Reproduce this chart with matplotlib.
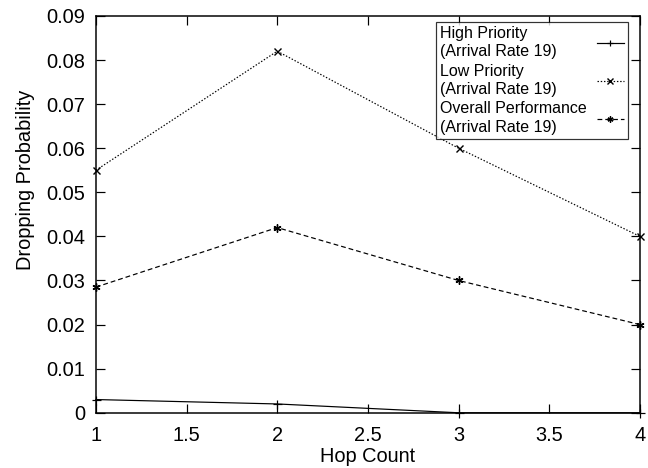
import matplotlib
matplotlib.use("Agg")
import matplotlib.pyplot as plt

hops = [1, 2, 3, 4]
high = [0.003, 0.002, 0.0, 0.0]
low = [0.055, 0.082, 0.060, 0.040]
overall = [0.0285, 0.042, 0.030, 0.020]
labels = ["High Priority\n(Arrival Rate 19)", "Low Priority\n(Arrival Rate 19)",
          "Overall Performance\n(Arrival Rate 19)"]

plt.rcParams['font.family'] = ['Liberation Sans', 'DejaVu Sans']
fig = plt.figure(figsize=(9, 6.5), dpi=72)
ax = fig.add_axes([0.148, 0.118, 0.8395, 0.848])

ax.plot(hops, high, color='black', lw=1.2, marker='+', ms=9, mew=1.2, label=labels[0], clip_on=False)
ax.plot(hops, low, color='black', lw=1.2, ls=(0, (1.2, 1.5)), marker='x', ms=7, mew=1.4, label=labels[1], clip_on=False)
ax.plot(hops, overall, color='black', lw=1.2, ls=(0, (4, 2.5)), marker=(6, 2, 0), ms=8, mew=1.4, label=labels[2], clip_on=False)

ax.set_xlim(1, 4)
ax.set_ylim(0, 0.09)
ax.set_xticks([1, 1.5, 2, 2.5, 3, 3.5, 4])
ax.set_xticklabels(['1', '1.5', '2', '2.5', '3', '3.5', '4'])
ax.set_yticks([0, 0.01, 0.02, 0.03, 0.04, 0.05, 0.06, 0.07, 0.08, 0.09])
ax.set_yticklabels(['0', '0.01', '0.02', '0.03', '0.04', '0.05', '0.06', '0.07', '0.08', '0.09'])
ax.tick_params(direction='in', top=True, right=True, length=9, width=1.2, labelsize=20)
ax.tick_params(axis='x', pad=13)
ax.tick_params(axis='y', pad=11)
for s in ax.spines.values():
    s.set_linewidth(1.5)
ax.set_xlabel('Hop Count', fontsize=20, labelpad=2)
ax.set_ylabel('Dropping Probability', fontsize=20)
ax.yaxis.set_label_coords(-0.112, 0.587)


def make_legend(lspace):
    lg = ax.legend(loc='upper right', bbox_to_anchor=(0.978, 0.985), markerfirst=False, fontsize=16,
                   frameon=True, fancybox=False, edgecolor='black', handlelength=1.7,
                   borderpad=0.25, labelspacing=lspace, handletextpad=0.6, borderaxespad=0)
    lg.get_frame().set_linewidth(1.2)
    for h in lg.legend_handles:
        h.set_markersize(6)
    for t in lg.get_texts():
        t.set_linespacing(1.3)
    return lg


# pick label spacing so the legend box is about 117 px tall
target_h = 117.0
best = None
for i in range(0, 41):
    lspace = 0.02 * i
    lg = make_legend(lspace)
    fig.canvas.draw()
    hgt = lg.get_window_extent(fig.canvas.get_renderer()).height
    if best is None or abs(hgt - target_h) < best[0]:
        best = (abs(hgt - target_h), lspace)
leg = make_legend(best[1])

# left-align legend labels while keeping handles right-aligned
fig.canvas.draw()
r = fig.canvas.get_renderer()
col = leg._legend_handle_box.get_children()[0]
col.align = 'left'
rows = col.get_children()
widths = [t.get_window_extent(r).width for t in leg.get_texts()]
maxw = max(widths)
for row, w in zip(rows, widths):
    row.sep = row.sep + (maxw - w)

fig.savefig('out.png', dpi=72)
